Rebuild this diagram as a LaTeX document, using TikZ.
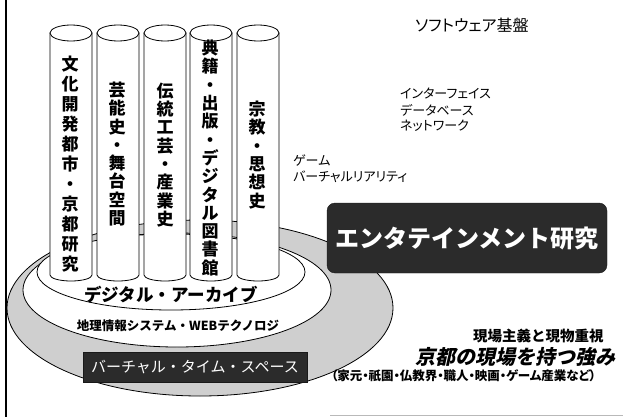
\documentclass[tikz,border=0pt]{standalone}
\usepackage{fontspec}
\newfontfamily\jp{Noto Sans CJK JP}
\newfontfamily\jpp{Noto Sans CJK JP}[RawFeature=+palt]
\newfontfamily\jpsl{Noto Sans CJK JP}[FakeSlant=0.22]
\tikzset{
  ringline/.style={draw=black, line width=0.8pt},
  cylbody/.style={draw=black, line width=0.8pt, fill=white},
  vtext/.style={align=center, inner sep=0pt, font={\jp\bfseries\fontsize{17pt}{18.3pt}\selectfont}},
  darkbox/.style={fill=black!83, draw=black!90, text=white, inner sep=0pt},
  plain/.style={inner sep=0pt, anchor=west}
}
\begin{document}
\begin{tikzpicture}[x=1pt,y=-1pt]
\useasboundingbox (0,0) rectangle (623,417);
\fill[white] (0,0) rectangle (623,417);
% frame
\draw[line width=2pt] (6,0) -- (6,417);
\draw[gray!55, line width=0.8pt] (330,415) -- (623,415);
% rings
\draw[ringline, fill=gray!38] (200,308) ellipse [x radius=193pt, y radius=88pt];
\draw[ringline, fill=white] (177,290) ellipse [x radius=154pt, y radius=57pt];
\draw[ringline, fill=white] (171,272) ellipse [x radius=134pt, y radius=38pt];
% cylinders
\foreach \cx in {71,118,165,211,258}{
  \draw[cylbody] (\cx-21,33) -- (\cx-21,275) arc[start angle=180, end angle=360, x radius=21pt, y radius=6pt] -- (\cx+21,33) -- cycle;
  \draw[cylbody] (\cx,33) ellipse [x radius=21pt, y radius=8pt];
}
\node[vtext, font={\jp\bfseries\fontsize{17pt}{20pt}\selectfont}] (c1) at (70,164) {文\\化\\開\\発\\都\\市\\・\\京\\都\\研\\究};
\node[vtext] (c2) at (117,154) {芸\\能\\史\\・\\舞\\台\\空\\間};
\node[vtext] (c3) at (165,155) {伝\\統\\工\\芸\\・\\産\\業\\史};
\node[vtext] (c4) at (210,158) {典\\籍\\・\\出\\版\\・\\デ\\ジ\\タ\\ル\\図\\書\\館};
\node[vtext] (c5) at (257,155) {宗\\教\\・\\思\\想\\史};
% ring labels
\node[inner sep=0pt, font={\jp\bfseries\fontsize{17.5pt}{20pt}\selectfont}] (da) at (171,295) {デジタル・アーカイブ};
\node[inner sep=0pt, font={\jp\bfseries\fontsize{12.5pt}{14pt}\selectfont}] (gis) at (178,326) {地理情報システム・WEBテクノロジ};
\node[darkbox, minimum width=224pt, minimum height=30pt, font={\jp\fontsize{15pt}{17pt}\selectfont}] (vts) at (195,367) {バーチャル・タイム・スペース};
% entertainment box
\node[darkbox, rounded corners=8pt, minimum width=280pt, minimum height=70pt, font={\jp\bfseries\fontsize{24pt}{28pt}\selectfont}] (ent) at (467,238) {エンタテインメント研究};
% right texts
\node[plain, font={\jpp\fontsize{16pt}{18pt}\selectfont}] (sw) at (415,25) {ソフトウェア基盤};
\node[plain, font={\jpp\fontsize{13pt}{15pt}\selectfont}] (if) at (400,93) {インターフェイス};
\node[plain, font={\jpp\fontsize{13pt}{15pt}\selectfont}] (db) at (400,110) {データベース};
\node[plain, font={\jpp\fontsize{13pt}{15pt}\selectfont}] (nw) at (400,126) {ネットワーク};
\node[plain, font={\jpp\fontsize{13pt}{15pt}\selectfont}] (gm) at (293,160) {ゲーム};
\node[plain, font={\jpp\fontsize{13pt}{15pt}\selectfont}] (vr) at (293,177) {バーチャルリアリティ};
\node[plain, font={\jp\bfseries\fontsize{14.5pt}{17pt}\selectfont}] (gb) at (473,336) {現場主義と現物重視};
\node[plain, font={\jpsl\bfseries\fontsize{20pt}{22pt}\selectfont}] (kt) at (415,357) {京都の現場を持つ強み};
\node[plain, font={\jpp\bfseries\fontsize{12.5pt}{14pt}\selectfont}] (ex) at (331,376) {（家元・祇園・仏教界・職人・映画・ゲーム産業など）};
\end{tikzpicture}
\end{document}
